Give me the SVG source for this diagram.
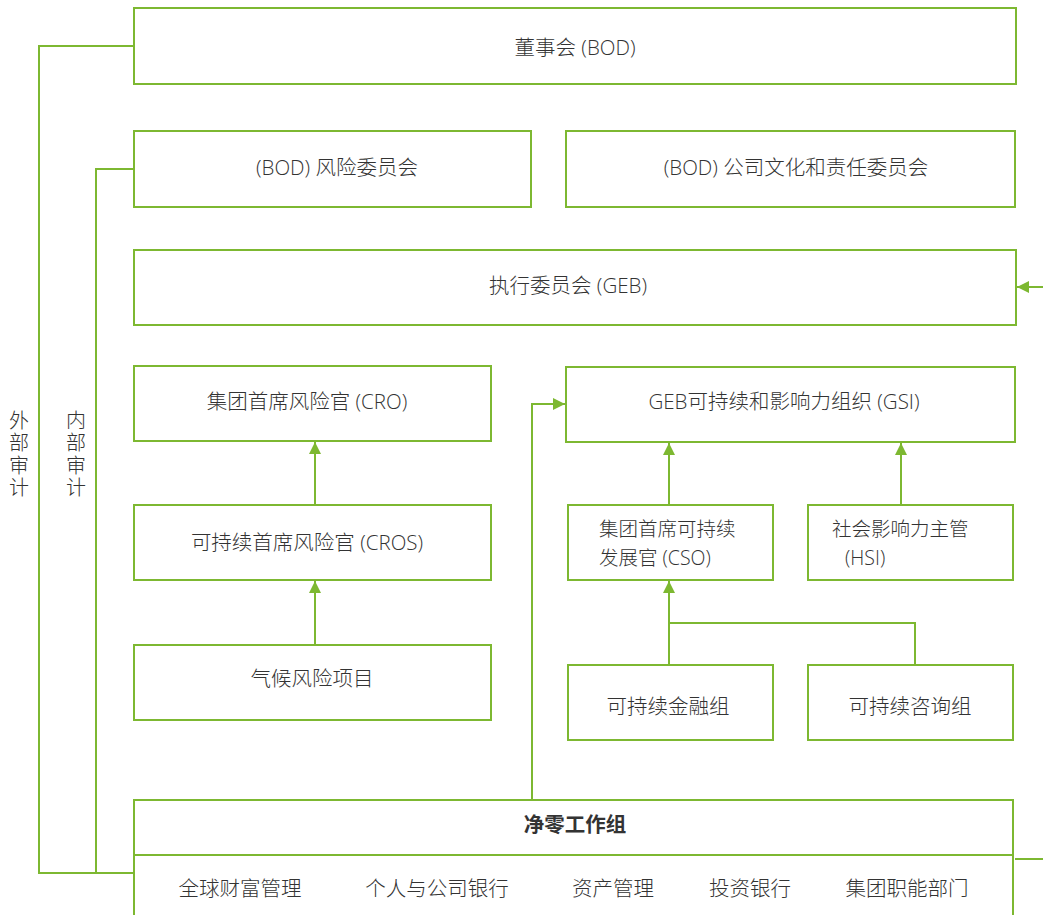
<svg xmlns="http://www.w3.org/2000/svg" width="1043" height="915" viewBox="0 0 1043 915">
<style>
.box{fill:#fff;stroke:#7db831;stroke-width:2}
.ln{fill:none;stroke:#7db831;stroke-width:2}
text{font-family:"Open Sans","Noto Sans CJK SC",sans-serif;font-size:20.5px;font-weight:300;fill:#333}
.c{text-anchor:middle}
.b{font-weight:bold}
.v{writing-mode:vertical-rl;letter-spacing:2.5px;font-size:20px}
.two{font-size:19.5px}
</style>
<defs>
<marker id="ah" viewBox="0 0 10 10" refX="10" refY="5" markerWidth="6" markerHeight="6" orient="auto" markerUnits="strokeWidth">
<path d="M0,0 L10,5 L0,10 z" fill="#7db831"/>
</marker>
</defs>
<g id="connectors">
<polyline class="ln" points="134,46 39,46 39,873 134,873"/>
<polyline class="ln" points="134,169 96,169 96,873"/>
<line class="ln" x1="1043" y1="287" x2="1017" y2="287" marker-end="url(#ah)"/>
<line class="ln" x1="1015" y1="859" x2="1043" y2="859"/>
<line class="ln" x1="315" y1="505" x2="315" y2="442" marker-end="url(#ah)"/>
<line class="ln" x1="315" y1="645" x2="315" y2="581" marker-end="url(#ah)"/>
<line class="ln" x1="669" y1="505" x2="669" y2="443" marker-end="url(#ah)"/>
<line class="ln" x1="901" y1="505" x2="901" y2="443" marker-end="url(#ah)"/>
<line class="ln" x1="669" y1="665" x2="669" y2="581" marker-end="url(#ah)"/>
<polyline class="ln" points="915,665 915,623 669,623"/>
<polyline class="ln" points="532,800 532,404 565,404" marker-end="url(#ah)"/>
</g>
<g id="bod"><rect class="box" x="134" y="8" width="882" height="76"/><text class="c" x="575" y="55">董事会 (BOD)</text></g>
<g id="bod-risk"><rect class="box" x="134" y="131" width="397" height="76"/><text class="c" x="337" y="175">(BOD) 风险委员会</text></g>
<g id="bod-culture"><rect class="box" x="566" y="131" width="449" height="76"/><text class="c" x="796" y="175">(BOD) 公司文化和责任委员会</text></g>
<g id="geb"><rect class="box" x="134" y="250" width="882" height="75"/><text class="c" x="568" y="293">执行委员会 (GEB)</text></g>
<g id="cro"><rect class="box" x="134" y="366" width="357" height="75"/><text class="c" x="307" y="409">集团首席风险官 (CRO)</text></g>
<g id="gsi"><rect class="box" x="566" y="367" width="449" height="75"/><text class="c" x="784" y="409">GEB可持续和影响力组织 (GSI)</text></g>
<g id="cros"><rect class="box" x="134" y="505" width="357" height="75"/><text class="c" x="307" y="550">可持续首席风险官 (CROS)</text></g>
<g id="cso"><rect class="box" x="568" y="505" width="205" height="75"/><text class="two" x="599" y="536">集团首席可持续<tspan x="599" dy="29">发展官 (CSO)</tspan></text></g>
<g id="hsi"><rect class="box" x="808" y="505" width="205" height="75"/><text class="two" x="832" y="536">社会影响力主管<tspan x="845" dy="29">(HSI)</tspan></text></g>
<g id="climate"><rect class="box" x="134" y="645" width="357" height="75"/><text class="c" x="312" y="686">气候风险项目</text></g>
<g id="sfin"><rect class="box" x="568" y="665" width="205" height="75"/><text class="c" x="668" y="714">可持续金融组</text></g>
<g id="sadv"><rect class="box" x="808" y="665" width="205" height="75"/><text class="c" x="910" y="714">可持续咨询组</text></g>
<g id="netzero">
<rect class="box" x="134" y="800" width="879" height="130"/>
<line class="ln" x1="134" y1="855" x2="1013" y2="855"/>
<text class="c b" x="575" y="832">净零工作组</text>
<text class="c" x="240" y="896">全球财富管理</text>
<text class="c" x="437" y="896">个人与公司银行</text>
<text class="c" x="613" y="896">资产管理</text>
<text class="c" x="750" y="896">投资银行</text>
<text class="c" x="907" y="896">集团职能部门</text>
</g>
<g id="audit-labels">
<text class="v" x="18" y="410">外部审计</text>
<text class="v" x="75" y="410">内部审计</text>
</g>
</svg>
